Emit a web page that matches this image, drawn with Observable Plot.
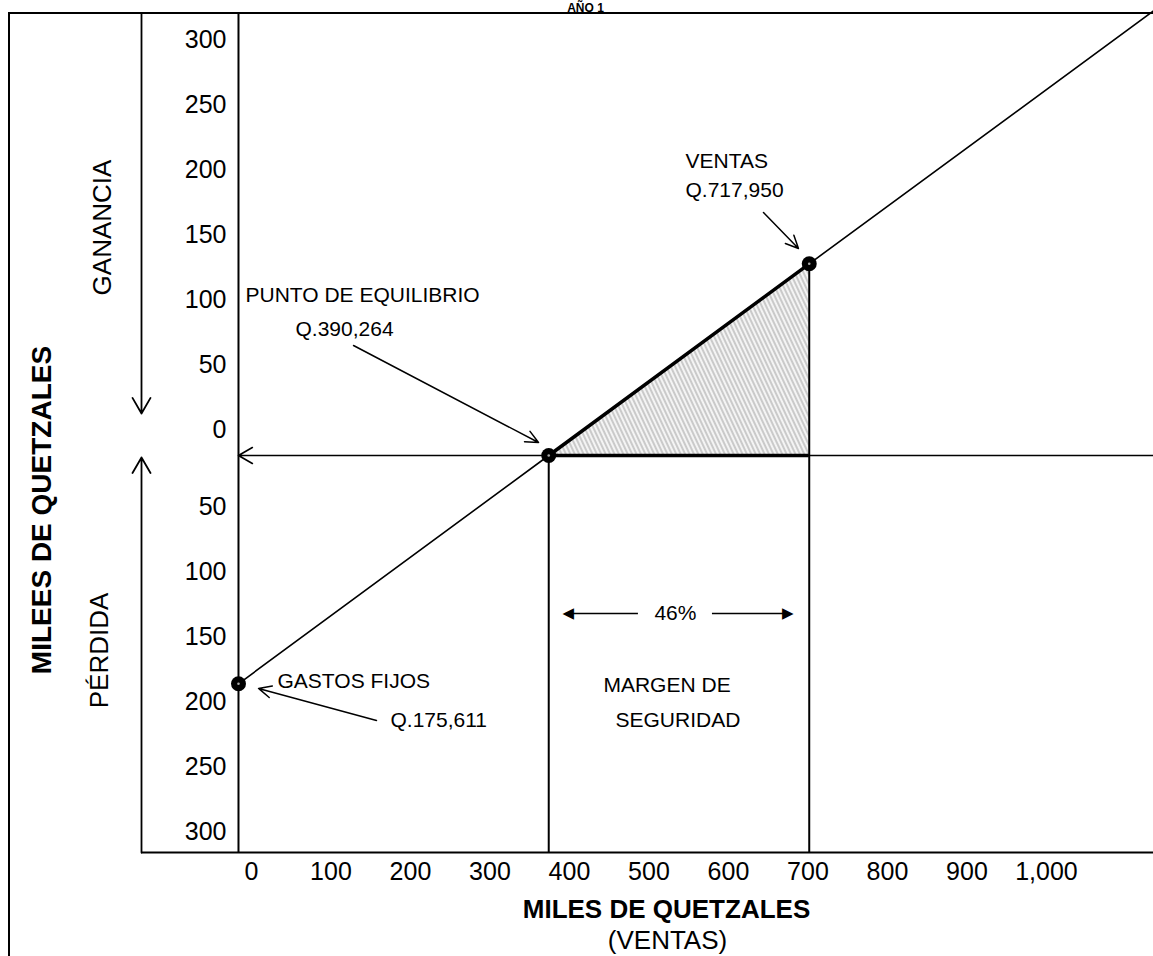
<!DOCTYPE html>
<html><head><meta charset="utf-8">
<script src="https://cdn.jsdelivr.net/npm/d3@7"></script>
<script src="https://cdn.jsdelivr.net/npm/@observablehq/plot@0.6"></script>
<style>
html,body{margin:0;padding:0;background:#fff;overflow:hidden;}
#wrap{position:relative;width:1153px;height:956px;overflow:hidden;}
#box{position:absolute;left:8px;top:12px;width:1200px;height:1000px;border-left:2px solid #000;border-top:2px solid #000;pointer-events:none;}
</style>
</head><body>
<div id="wrap"><div id="chart"></div><div id="box"></div></div>
<script>
// ---- data (miles de quetzales) ----
const salesX   = [0, 390.264, 717.95, 1151];      // ventas
const resultY  = [-175.611, 0, 147.46, 342];      // ganancia (+) / pérdida (-)
const keyNames = ["GASTOS FIJOS", "PUNTO DE EQUILIBRIO", "VENTAS"];
const keyX     = [0, 390.264, 717.95];
const keyY     = [-175.611, 0, 147.46];
const xTicks   = [0, 100, 200, 300, 400, 500, 600, 700, 800, 900, 1000];
const yTicksUp = [0, 50, 100, 150, 200, 250, 300];
const yTicksDown = [-50, -100, -150, -200, -250, -300];
const marginPct = "46%";
const xDomain = [-122, 1151];
const yDomain = [-305.4, 340];

// annotation anchors (data units)
const notes = [
  {text: "PUNTO DE EQUILIBRIO", x: 8.8,   y: 117.7},
  {text: "Q.390,264",           x: 71.7,  y: 92.3},
  {text: "VENTAS",              x: 562.3, y: 221.5},
  {text: "Q.717,950",           x: 562.3, y: 198.5},
  {text: "GASTOS FIJOS",        x: 49.1,  y: -178.5},
  {text: "Q.175,611",           x: 191.2, y: -209.2},
  {text: "MARGEN DE",           x: 459.1, y: -182.3},
  {text: "SEGURIDAD",           x: 474.2, y: -209.2}
];
const pointers = [
  {x1: 144.7, y1: 84.6,   x2: 377.4, y2: 10.0},
  {x1: 660.4, y1: 186.9,  x2: 704.4, y2: 159.2},
  {x1: 173.6, y1: -203.8, x2: 25.2,  y2: -179.2}
];
const sideArrows = [
  {y1: yDomain[1], y2: 32.3},
  {y1: yDomain[0], y2: -1.5}
];
const spanY = -121.5;
const spanLeft = [503.1, 412];
const spanRight = [596.2, 693];
const spanEnds = [407.5, 698.1];

const pts = salesX.map((x, i) => ({x, y: resultY[i]}));
const keys = keyX.map((x, i) => ({name: keyNames[i], x, y: keyY[i]}));
const profit = keys.slice(1);
const fmt = d3.format(",");
const FONT = '"Liberation Sans", Arial, Helvetica, sans-serif';

const chart = Plot.plot({
  width: 1153, height: 956,
  marginLeft: 141, marginRight: 0, marginTop: 13, marginBottom: 104,
  x: {domain: xDomain, axis: null},
  y: {domain: yDomain, axis: null},
  style: {fontFamily: FONT, background: "white", color: "black", overflow: "hidden"},
  marks: [
    Plot.areaY(profit, {x: "x", y1: 0, y2: "y", fill: "url(#hatch)"}),
    Plot.ruleY([yDomain[0]], {stroke: "black", strokeWidth: 2}),
    Plot.ruleX([0], {stroke: "black", strokeWidth: 2}),
    Plot.ruleX([keyX[1]], {y1: yDomain[0], y2: 0, stroke: "black", strokeWidth: 2}),
    Plot.ruleX([keyX[2]], {y1: yDomain[0], y2: keyY[2], stroke: "black", strokeWidth: 2}),
    Plot.arrow([0], {x1: xDomain[1], y1: 0, x2: 0, y2: 0, headLength: 15, headAngle: 60, stroke: "black", strokeWidth: 1.6}),
    Plot.line(pts, {x: "x", y: "y", stroke: "black", strokeWidth: 1.6}),
    Plot.line(profit, {x: "x", y: "y", stroke: "black", strokeWidth: 3.5}),
    Plot.ruleY([0], {x1: keyX[1], x2: keyX[2], stroke: "black", strokeWidth: 3.5}),
    Plot.dot(keys, {x: "x", y: "y", r: 7.5, fill: "black"}),
    Plot.dot(keys, {x: "x", y: "y", r: 1.3, fill: "#aaa"}),
    // side arrows GANANCIA / PERDIDA
    Plot.arrow(sideArrows, {x1: xDomain[0], x2: xDomain[0], y1: "y1", y2: "y2", headLength: 15, headAngle: 60, stroke: "black", strokeWidth: 1.8}),
    // pointers
    Plot.arrow(pointers, {x1: "x1", y1: "y1", x2: "x2", y2: "y2", headLength: 14, headAngle: 50, stroke: "black", strokeWidth: 1.5}),
    // 46% span
    Plot.ruleY([spanY], {x1: spanLeft[0], x2: spanLeft[1], stroke: "black", strokeWidth: 1.5}),
    Plot.ruleY([spanY], {x1: spanRight[0], x2: spanRight[1], stroke: "black", strokeWidth: 1.5}),
    Plot.text([spanEnds[0]], {x: d => d, y: spanY, text: () => "◀", textAnchor: "start", fontSize: 15, fontFamily: "DejaVu Sans"}),
    Plot.text([spanEnds[1]], {x: d => d, y: spanY, text: () => "▶", textAnchor: "end", fontSize: 15, fontFamily: "DejaVu Sans"}),
    Plot.text([marginPct], {x: (spanLeft[0] + spanRight[0]) / 2, y: spanY, text: d => d, fontSize: 21, textAnchor: "middle"}),
    // annotations
    Plot.text(notes, {x: "x", y: "y", text: "text", textAnchor: "start", lineAnchor: "bottom", fontSize: 21}),
    // y tick labels
    Plot.text(yTicksUp, {x: 0, y: d => d, text: d => String(Math.abs(d)), textAnchor: "end", dx: -12, dy: -25, fontSize: 25}),
    Plot.text(yTicksDown, {x: 0, y: d => d, text: d => String(Math.abs(d)), textAnchor: "end", dx: -12, dy: -13, fontSize: 25}),
    // x tick labels
    Plot.text(xTicks, {x: d => d, frameAnchor: "bottom", text: d => fmt(d), dx: 13, dy: 27, fontSize: 25, textAnchor: "middle"}),
    // axis titles
    Plot.text(["MILES DE QUETZALES"], {frameAnchor: "bottom", text: d => d, dx: 19, dy: 65, lineAnchor: "bottom", textAnchor: "middle", fontSize: 26, fontWeight: "bold"}),
    Plot.text(["(VENTAS)"], {frameAnchor: "bottom", text: d => d, dx: 20, dy: 96, lineAnchor: "bottom", textAnchor: "middle", fontSize: 26}),
    Plot.text(["MILEES DE QUETZALES"], {frameAnchor: "left", text: d => d, dx: -99, dy: 77, rotate: -90, textAnchor: "middle", lineAnchor: "middle", fontSize: 28, fontWeight: "bold"}),
    Plot.text(["GANANCIA"], {frameAnchor: "left", y: 175.4, text: d => d, dx: -39, rotate: -90, textAnchor: "middle", lineAnchor: "middle", fontSize: 26}),
    Plot.text(["PÉRDIDA"], {frameAnchor: "left", y: -150, text: d => d, dx: -42, rotate: -90, textAnchor: "middle", lineAnchor: "middle", fontSize: 26}),
    // title, kept small so it fits above the box line
    Plot.text(["AÑO 1"], {frameAnchor: "top", text: d => d, dx: -62, dy: -2, lineAnchor: "bottom", textAnchor: "middle", fontSize: 12, fontWeight: "bold"})
  ]
});

// hatch pattern for the profit triangle
const svg = d3.select(chart);
const defs = svg.insert("defs", ":first-child");
const pat = defs.append("pattern").attr("id", "hatch").attr("patternUnits", "userSpaceOnUse")
  .attr("width", 4).attr("height", 4).attr("patternTransform", "rotate(-25)");
pat.append("rect").attr("width", 4).attr("height", 4).attr("fill", "#f4f4f4");
pat.append("line").attr("x1", 1).attr("y1", 0).attr("x2", 1).attr("y2", 4).attr("stroke", "#a0a0a0").attr("stroke-width", 1);

document.getElementById("chart").appendChild(chart);
</script>
</body></html>
